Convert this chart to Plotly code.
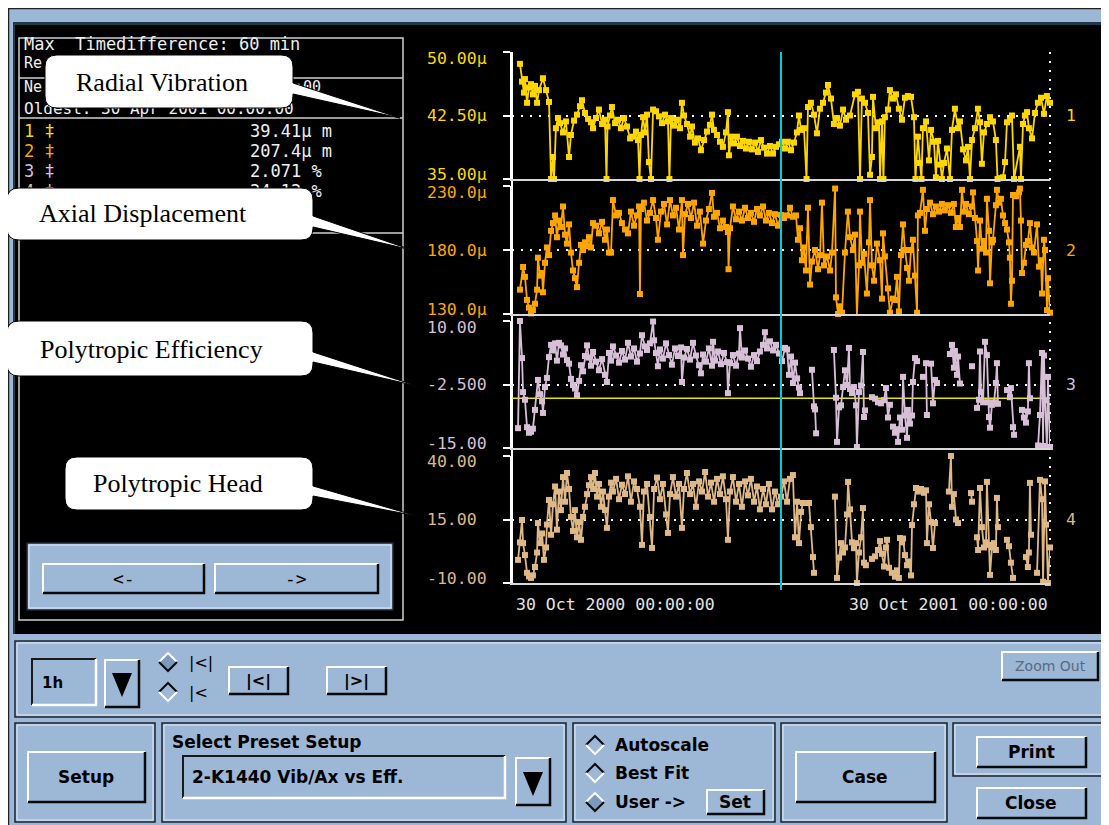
import plotly.graph_objects as go

# The page places the figure 8 px in from the top-left corner, so the figure is
# 1101x817 and every GUI pixel position below is given in page pixels.
OFF = 8
W, H = 1101, 817
BLUE = "#9db7d6"
MONO = "DejaVu Sans Mono"
SANS = "DejaVu Sans"
SERIF = "Liberation Serif"

# ------------------------------------------------------------------ data
start_label = "30 Oct 2000 00:00:00"
end_label = "30 Oct 2001 00:00:00"
span_days = [0, 365]
cursor_day = 182.5
eff_limit = -5.2

series_names = ["Radial Vibration", "Axial Displacement",
                "Polytropic Efficiency", "Polytropic Head"]
value_ranges = [[35, 50], [130, 230], [-15, 10], [-10, 40]]
tick_labels = [["35.00µ", "42.50µ", "50.00µ"],
               ["130.0µ", "180.0µ", "230.0µ"],
               ["-15.00", "-2.500", "10.00"],
               ["-10.00", "15.00", "40.00"]]
series_colors = ["#ffd700", "#ffa500", "#d8bfd8", "#deb887"]
cursor_values = ["39.41µ m", "207.4µ m", "2.071 %", "24.12 %"]
info_header = "Max  Timedifference: 60 min"

vib_days = [5.4, 6.8, 8.1, 8.8, 10.2, 11.5, 12.9, 14.2, 15.6, 17.0,
            18.3, 21.0, 23.1, 25.1, 26.5, 27.8, 28.5, 29.8, 31.2, 32.6,
            34.6, 36.6, 38.7, 40.0, 42.1, 44.1, 46.1, 47.5, 49.5, 51.6,
            53.6, 55.0, 57.0, 59.0, 61.1, 63.1, 64.1, 64.8, 66.5, 67.8,
            69.9, 71.9, 73.9, 76.0, 78.0, 80.1, 82.1, 84.1, 85.5, 86.5,
            87.5, 88.9, 90.2, 91.6, 92.9, 94.3, 95.7, 97.7, 99.7, 101.8,
            103.8, 105.8, 106.8, 107.9, 109.9, 111.9, 114.0, 115.3, 116.7, 118.7,
            120.8, 122.1, 124.1, 126.2, 128.2, 130.3, 132.3, 134.3, 135.7, 137.0,
            139.1, 141.1, 143.1, 145.2, 146.5, 147.2, 148.6, 150.6, 152.6, 154.7,
            156.7, 158.7, 160.8, 162.8, 164.9, 166.9, 168.9, 171.0, 173.0, 175.0,
            177.1, 179.1, 181.1, 183.2, 185.2, 187.2, 189.3, 191.3, 193.3, 194.7,
            196.1, 198.1, 199.8, 200.8, 202.8, 204.9, 206.9, 208.9, 211.0, 213.0,
            214.4, 216.4, 218.4, 220.5, 222.5, 224.6, 226.6, 229.3, 232.7, 234.7,
            236.1, 237.4, 239.5, 241.5, 242.9, 244.2, 244.9, 246.9, 249.0, 249.7,
            251.0, 252.0, 253.0, 255.1, 256.4, 258.5, 260.5, 262.5, 264.6, 266.6,
            268.6, 270.7, 272.7, 273.7, 275.4, 276.8, 277.8, 278.8, 280.9, 282.9,
            284.3, 286.3, 287.6, 289.0, 290.4, 291.7, 293.1, 295.1, 297.1, 298.5,
            300.5, 302.6, 303.9, 306.0, 308.0, 309.4, 310.7, 312.1, 314.1, 316.1,
            317.5, 318.8, 320.2, 322.2, 324.3, 326.3, 328.3, 329.4, 331.1, 333.1,
            334.5, 335.8, 337.8, 339.2, 340.6, 344.6, 345.3, 346.7, 348.0, 349.4,
            350.7, 352.8, 354.8, 356.8, 358.9, 360.9, 362.9, 365.0]
vib_um = [48.6, 46.5, 45.2, 46.8, 44.0, 45.8, 46.2, 45.0, 46.0, 44.0,
          45.5, 46.9, 45.5, 44.1, 35.0, 37.6, 35.0, 41.0, 42.2, 41.6,
          40.5, 41.8, 37.6, 40.2, 41.9, 42.6, 43.6, 44.3, 42.8, 42.1,
          41.7, 41.0, 42.2, 43.2, 41.5, 42.0, 35.0, 41.2, 42.5, 43.5,
          41.6, 42.0, 41.0, 42.2, 41.2, 39.8, 40.0, 40.6, 39.6, 35.0,
          40.2, 42.3, 40.5, 42.6, 37.0, 35.0, 43.2, 43.0, 42.4, 41.6,
          42.6, 41.8, 35.0, 42.2, 41.3, 42.0, 41.0, 44.0, 42.5, 41.5,
          40.0, 41.2, 39.3, 39.8, 38.4, 39.6, 40.6, 41.4, 42.6, 40.8,
          40.2, 39.4, 38.8, 40.5, 42.9, 37.8, 40.0, 39.2, 40.0, 38.9,
          39.5, 38.6, 39.4, 38.5, 39.3, 38.2, 39.6, 38.7, 38.0, 38.9,
          38.0, 38.8, 39.1, 39.4, 38.6, 39.4, 38.4, 39.3, 40.5, 42.5,
          40.8, 41.0, 35.0, 43.5, 44.0, 42.6, 40.4, 43.3, 44.0, 45.2,
          46.1, 44.5, 41.5, 42.2, 41.3, 43.2, 42.0, 42.5, 45.0, 45.3,
          35.0, 44.5, 44.0, 42.8, 35.5, 37.6, 44.7, 41.0, 41.7, 35.0,
          41.8, 35.0, 42.3, 43.2, 45.5, 44.5, 45.0, 43.3, 42.0, 44.6,
          44.8, 44.7, 42.3, 35.0, 40.0, 36.9, 35.0, 41.0, 41.8, 37.2,
          40.8, 39.4, 35.2, 39.5, 36.7, 35.0, 36.9, 38.6, 35.0, 40.8,
          43.3, 41.0, 41.8, 38.5, 37.2, 38.8, 35.0, 39.6, 41.0, 43.3,
          41.7, 36.8, 40.5, 41.5, 42.3, 41.8, 39.6, 35.0, 35.1, 35.2,
          37.0, 41.7, 42.0, 42.5, 35.0, 38.8, 35.0, 41.5, 42.5, 42.9,
          41.0, 39.8, 42.8, 44.0, 44.6, 42.7, 44.8, 44.0]

axial_days = [5.4, 7.5, 8.8, 10.2, 11.5, 12.9, 14.2, 15.6, 17.0, 17.6,
              19.0, 20.4, 21.0, 22.4, 23.7, 25.1, 26.5, 27.8, 29.2, 30.5,
              31.9, 33.2, 34.6, 36.0, 37.3, 38.7, 40.0, 41.4, 42.7, 44.1,
              45.5, 46.8, 48.2, 49.5, 50.9, 52.2, 53.6, 55.0, 57.0, 59.0,
              61.1, 63.1, 64.4, 65.8, 67.2, 68.5, 70.6, 72.6, 74.6, 76.7,
              78.7, 80.7, 82.8, 84.8, 86.2, 86.8, 87.5, 89.5, 91.6, 93.6,
              95.7, 97.7, 99.0, 101.1, 103.1, 105.2, 107.2, 109.2, 111.3, 113.3,
              115.3, 116.0, 117.4, 119.4, 121.4, 123.5, 125.5, 127.5, 129.6, 131.6,
              133.6, 135.7, 137.0, 139.1, 141.1, 143.1, 145.2, 146.5, 146.9, 147.9,
              149.9, 152.0, 154.0, 156.0, 158.1, 160.1, 162.1, 164.2, 166.2, 168.2,
              170.3, 172.3, 174.3, 176.4, 178.4, 180.5, 182.5, 184.5, 186.6, 188.6,
              190.6, 192.7, 194.0, 195.4, 196.7, 198.1, 199.4, 200.8, 202.2, 203.5,
              205.6, 207.6, 209.0, 210.3, 211.7, 213.7, 215.8, 217.1, 219.2, 219.8,
              221.2, 222.5, 223.9, 225.9, 227.9, 229.3, 231.3, 232.7, 234.0, 235.4,
              236.1, 237.4, 238.8, 240.8, 242.2, 242.9, 244.2, 245.6, 247.6, 249.7,
              251.0, 251.7, 253.0, 255.1, 256.4, 258.5, 259.8, 261.2, 262.5, 263.9,
              265.3, 266.6, 268.0, 269.3, 270.7, 272.0, 273.4, 274.8, 275.4, 276.8,
              278.8, 280.2, 281.5, 283.6, 285.6, 287.6, 289.7, 291.7, 293.7, 295.8,
              297.8, 299.8, 301.2, 302.6, 303.9, 305.3, 306.6, 308.0, 310.0, 312.1,
              312.8, 314.1, 315.5, 316.2, 317.5, 318.9, 320.2, 321.6, 322.2, 323.6,
              324.3, 325.6, 326.3, 328.3, 329.0, 330.4, 331.7, 333.1, 334.5, 335.8,
              337.2, 337.8, 338.5, 339.2, 339.9, 341.9, 344.0, 344.6, 345.3, 346.0,
              347.3, 348.7, 350.0, 351.4, 352.8, 354.1, 356.2, 357.5, 358.9, 359.6,
              360.9, 361.6, 363.0, 363.6, 365.0]
axial_um = [149, 166.7, 159, 141, 135, 130.5, 133, 138, 149, 174,
            160, 162, 147, 170, 182, 176, 195, 201, 207, 190,
            203, 198, 214, 192, 185, 200, 178, 164, 158, 151,
            170, 184, 180, 186, 183, 190, 182, 201, 199, 193,
            202, 188, 196, 178, 178, 219, 207, 209, 201, 196,
            193, 210, 199, 207, 214, 145.6, 212, 217, 203, 209,
            219, 205, 188, 210, 216, 200, 219, 207, 213, 196,
            219, 176, 208, 216, 205, 217, 199, 210, 185, 203,
            212, 224.6, 206, 209, 197, 203, 198, 194, 165, 197,
            214, 204, 210, 203, 213, 205, 209, 202, 212, 207,
            214, 203, 209, 201, 208, 199, 207.4, 205, 207, 213,
            206, 207, 188, 197, 172, 182, 164, 213, 153, 171,
            180, 165, 176, 217, 168, 175, 164, 178, 228, 143,
            130, 136, 131, 178, 210, 190, 180, 192, 129.5, 168,
            210, 170, 177, 146, 186, 219, 168, 156, 185, 172,
            142, 193, 175, 150, 131, 142, 141, 159, 132, 176,
            200, 180, 166, 156, 180, 188, 160, 131, 207, 209,
            227, 195, 212, 217, 208, 214, 210, 216, 211, 215,
            209, 216, 198, 205, 198, 227, 210, 216, 208, 214,
            225, 205, 187, 164, 203, 181, 187, 178, 220, 195,
            154, 186, 188, 215, 227, 217, 220, 207, 201, 196,
            186, 174, 138, 156, 223, 222, 225, 228, 203, 162,
            170, 184, 187, 201, 182, 178, 200, 167, 172, 146,
            188, 180, 133, 158, 131]

eff_days = [4.1, 5.4, 6.8, 7.5, 8.8, 10.2, 11.5, 12.9, 14.2, 15.6,
            17.6, 19.0, 20.4, 21.0, 22.4, 23.7, 25.1, 26.5, 27.8, 29.2,
            30.5, 31.9, 33.2, 34.6, 36.0, 37.3, 38.7, 40.0, 41.4, 42.7,
            44.1, 45.5, 46.8, 48.2, 49.5, 50.9, 52.2, 53.6, 55.0, 57.0,
            59.0, 61.1, 63.1, 64.4, 65.8, 67.2, 68.5, 70.6, 72.6, 74.6,
            76.7, 78.7, 80.7, 82.8, 84.8, 86.8, 88.2, 90.2, 91.6, 93.6,
            95.7, 96.4, 97.7, 99.0, 100.4, 102.4, 104.5, 106.5, 108.5, 110.6,
            112.6, 114.7, 115.3, 116.7, 118.7, 120.8, 122.8, 124.8, 126.9, 128.2,
            129.6, 131.6, 133.6, 135.7, 136.4, 137.7, 139.8, 141.8, 143.8, 145.9,
            146.5, 147.9, 149.9, 152.0, 154.0, 154.7, 156.0, 158.1, 160.1, 162.1,
            164.2, 166.2, 168.2, 170.3, 171.6, 173.0, 175.0, 177.1, 179.1, 181.1,
            183.2, 185.2, 186.6, 187.9, 189.3, 190.6, 192.0, 193.4, 194.7, 195.4,
            None, 203.5, 204.9, 205.6, 206.3, None, 218.4, 219.8, 220.5, 221.9,
            223.2, 224.6, 225.9, 227.3, 228.6, 229.3, 230.7, 232.0, 233.4, 234.0,
            235.4, 236.8, 238.1, 238.8, 239.5, None, 244.2, 246.3, 248.3, 250.3,
            252.4, 253.7, 255.1, 256.4, None, 258.5, 259.8, 261.2, 261.9, 263.2,
            264.6, 265.3, 266.6, 268.0, 268.6, 270.0, 271.4, 272.0, 273.4, 274.8,
            None, 278.8, None, 280.9, 281.5, None, 284.3, 285.6, 287.0, 288.3,
            None, 297.1, 298.5, 299.8, 300.5, 301.9, 302.6, 303.9, None, 312.1,
            None, 315.5, 316.8, 317.5, 318.2, 319.6, 320.9, 322.2, 322.9, 323.6,
            324.3, 325.6, 327.0, 328.3, 329.0, 329.7, None, 335.8, 337.8, 338.5,
            339.9, 340.6, None, 346.0, 347.3, 348.7, 350.0, 350.7, 351.4, None,
            356.9, 358.2, 359.6, 360.3, 360.9, 361.6, 362.9, 363.6, 365.0]
eff_pct = [-11.1, 10.0, 2.7, -4.0, -5.5, -10.9, -12.0, -11.8, -11.2, -7.5,
           -1.6, -4.4, -5.8, -8.1, -3.0, -1.2, 2.9, 5.3, 4.2, 5.6,
           2.2, 5.7, 5.2, 3.4, 4.6, 2.3, 1.6, -1.4, -2.6, -3.3,
           -4.6, -1.8, 1.3, 0.1, 3.1, 5.2, 2.8, 1.2, 3.9, 2.0,
           0.3, 2.5, -0.6, -2.0, 3.7, 2.2, 5.0, 3.2, 1.8, 4.1,
           2.4, 5.7, 3.0, 4.6, 2.0, 3.6, 7.2, 5.0, 4.3, 5.6,
           9.9, 6.2, 3.7, 1.1, 4.4, 2.6, 5.6, 3.3, 1.4, 4.6,
           3.1, 4.8, -2.0, 2.8, 4.5, 2.4, 5.7, 3.2, 1.3, -0.3,
           3.4, 2.0, 4.6, 1.2, 5.9, 2.2, 4.0, 1.5, 3.7, 1.9,
           -4.2, 1.7, 3.3, 1.2, 3.6, 8.6, 2.8, 4.2, 2.6, 1.0,
           3.3, 2.1, 4.0, 5.3, 7.8, 4.6, 6.0, 4.2, 5.3, 3.6,
           2.1, 4.7, 4.4, -0.6, 3.0, -2.2, 1.8, -1.3, -3.1, -4.2,
           None, 0.4, -6.8, -7.4, -12.1, None, 4.3, -5.1, -13.8, -7.0,
           -6.6, -3.0, 0.3, -2.6, 4.7, -3.4, -4.2, -3.0, -6.6, -14.8,
           -4.0, -2.7, 3.9, -8.9, -7.6, None, -5.0, -5.3, -6.0, -6.2,
           -5.6, -3.2, -9.0, -6.5, None, -10.8, -12.0, -11.3, -13.8, -9.0,
           -11.4, -1.0, -8.6, -13.0, -7.5, -10.2, -8.6, -2.0, 2.7, 2.1,
           None, -1.0, None, 1.7, -8.5, None, 1.6, -6.2, -1.6, -2.2,
           None, 3.5, 5.3, 0.8, 4.1, -0.6, 3.0, -2.3, None, 1.1,
           None, -7.1, -5.5, 4.0, -4.0, -6.0, 5.9, 3.3, -6.0, -8.9,
           -11.0, -6.5, -6.0, -2.2, 1.7, -6.3, None, -3.6, -5.0, -3.2,
           -10.9, -12.4, None, -7.5, -9.0, -10.0, -7.8, 1.7, -5.2, None,
           -14.5, -8.5, 3.7, -14.6, 3.2, -5.6, -14.8, -1.0, -14.8]

head_days = [4.1, 5.4, 6.8, 7.5, 8.8, 10.2, 11.5, 12.9, 14.2, 15.6,
             17.0, 17.6, 19.0, 20.4, 21.7, 23.1, 23.7, 25.1, 26.5, 27.8,
             29.2, 30.5, 31.9, 33.2, 34.6, 36.0, 37.3, 38.7, 40.0, 41.4,
             42.7, 44.1, 45.5, 46.8, 48.2, 49.5, 50.9, 52.2, 53.6, 55.0,
             56.3, 57.7, 59.0, 60.4, 61.7, 63.1, 64.4, 65.8, 67.2, 68.5,
             70.6, 72.6, 74.6, 76.7, 78.7, 80.7, 82.8, 84.8, 86.8, 88.2,
             89.5, 91.6, 93.6, 95.0, 96.4, 98.4, 100.4, 102.4, 104.5, 105.8,
             107.2, 109.2, 111.3, 113.3, 115.3, 116.7, 118.7, 120.8, 122.8, 124.8,
             126.9, 128.9, 131.0, 133.0, 135.0, 137.1, 139.1, 141.1, 143.1, 145.2,
             146.5, 147.9, 149.9, 152.0, 154.0, 156.0, 158.1, 160.1, 162.1, 164.2,
             166.2, 168.2, 170.3, 172.3, 174.3, 176.4, 178.4, 180.5, 182.5, 184.5,
             186.6, 188.6, 190.6, 192.0, 193.4, 194.7, 196.1, 197.4, None, 201.5,
             202.8, 204.2, 204.9, None, 219.1, 220.5, 221.9, 223.2, 224.6, 225.9,
             227.3, 228.0, 229.3, 230.7, 232.0, 233.4, 234.0, 235.4, 236.8, 238.1,
             238.8, 240.1, None, 244.2, 246.3, 248.3, 249.7, 251.0, 252.4, 253.7,
             254.4, 255.8, 257.7, 259.8, 261.2, 262.5, 263.2, 264.6, 265.3, 266.6,
             268.0, 269.3, 270.7, 271.4, 272.7, 274.1, 275.4, 277.5, 279.5, 280.9,
             281.5, 282.9, 284.3, 285.6, 287.0, None, 296.4, 297.8, 298.5, 299.8,
             301.2, 302.6, None, 311.4, 312.1, None, 315.5, 316.2, 317.5, 318.8,
             320.2, 321.6, 322.2, 323.6, 324.3, 325.6, 327.0, 328.3, 329.0, 329.7,
             None, 335.8, 337.2, 338.5, 339.9, None, 348.7, 350.0, 350.7, 351.4,
             352.1, None, 356.2, 358.2, 359.6, 360.3, 361.6, 362.3, 363.6, 365.0]
head_val = [-0.9, 6.0, 14.8, 5.7, 1.0, -6.0, -7.4, -8.0, -7.0, -3.7,
            2.0, 13.6, 5.7, 9.5, -0.9, 4.0, 13.0, 22.7, 9.0, 21.0,
            28.0, 11.0, 26.0, 18.7, 31.7, 22.0, 33.3, 27.0, 16.0, 10.5,
            18.7, 8.0, 14.0, 7.0, 16.0, 20.0, 25.0, 28.5, 31.7, 27.0,
            33.3, 24.0, 29.0, 20.0, 26.0, 18.7, 11.7, 24.0, 29.5, 26.0,
            31.0, 23.0, 28.7, 25.0, 32.0, 22.0, 30.0, 27.0, 20.0, 5.0,
            26.0, 29.0, 16.0, 3.8, 27.0, 31.5, 23.0, 29.0, 17.0, 9.7,
            25.0, 31.7, 24.0, 29.0, 11.7, 27.0, 33.3, 25.0, 29.0, 20.0,
            30.0, 26.0, 33.7, 24.0, 29.5, 22.0, 31.0, 25.0, 32.0, 23.0,
            7.0, 26.0, 31.7, 22.0, 29.0, 20.0, 30.0, 24.5, 31.0, 22.0,
            28.0, 19.0, 27.0, 21.0, 29.0, 19.0, 26.0, 21.0, 24.0, 30.0,
            22.0, 31.0, 32.5, 8.0, 22.0, 5.7, 18.0, 21.5, None, 21.5,
            12.0, 0.2, -6.0, None, 24.0, -8.0, 0.0, 5.7, 2.0, 4.0,
            17.0, 29.8, 19.0, 6.0, 3.7, 5.7, -10.0, 2.0, 8.0, 19.5,
            -2.0, -3.0, None, -0.5, 0.5, 3.0, 6.5, 1.5, -3.5, 4.0,
            7.0, -4.0, -6.0, -7.5, -5.0, -8.0, 7.7, 6.0, 7.5, 1.0,
            -3.0, -1.5, -7.0, 12.8, 21.0, 27.4, 26.0, 27.0, 25.5, 26.5,
            5.7, 21.0, 14.0, 3.8, 13.6, None, 26.0, 40.0, 20.0, 25.0,
            15.0, 13.6, None, 25.4, 22.0, None, 8.0, 3.0, 27.4, 12.0,
            4.0, 6.0, 29.8, 5.0, -6.8, 4.0, 5.7, 3.0, 23.5, 12.0,
            None, 7.0, 4.5, -2.0, -8.0, None, 0.2, -3.7, 2.0, 29.4,
            9.0, None, -6.0, 30.6, 23.0, -9.5, 30.0, 13.0, -10.0, 4.0]

series_days = [vib_days, axial_days, eff_days, head_days]
series_vals = [vib_um, axial_um, eff_pct, head_val]

# ------------------------------------------------------------------ helpers (GUI drawing, page pixel -> paper)
shapes, annots = [], []


def fx(px):
    return (px - OFF) / W


def fy(py):
    return 1 - (py - OFF) / H


def P(x, y):
    return f"{fx(x):.5f},{fy(y):.5f}"


def rect(x0, y0, x1, y1, fill="rgba(0,0,0,0)", line=None, lw=1, layer="below"):
    shapes.append(dict(type="rect", xref="paper", yref="paper",
                       x0=fx(x0), x1=fx(x1), y0=fy(y1), y1=fy(y0),
                       fillcolor=fill, layer=layer,
                       line=dict(color=line or "rgba(0,0,0,0)", width=lw if line else 0)))


def poly(pts, fill="rgba(0,0,0,0)", line=None, lw=1, closed=True, layer="below", dash=None):
    d = "M " + " L ".join(P(x, y) for x, y in pts) + (" Z" if closed else "")
    ln = dict(color=line or "rgba(0,0,0,0)", width=lw if line else 0)
    if dash:
        ln["dash"] = dash
    shapes.append(dict(type="path", xref="paper", yref="paper", path=d,
                       fillcolor=fill, layer=layer, line=ln))


def bevel(x0, y0, x1, y1, raised=True, fill=BLUE, w=2):
    rect(x0, y0, x1, y1, fill)
    light, dark = ("#ffffff", "#0a0a0a") if raised else ("#1a1a1a", "#ffffff")
    poly([(x0, y1), (x0, y0), (x1, y0)], line=light, lw=w, closed=False)
    poly([(x0, y1), (x1, y1), (x1, y0)], line=dark, lw=w + 0.5, closed=False)


def panel(x0, y0, x1, y1):
    rect(x0, y0, x1, y1, line="#1b2530", lw=1.5)
    rect(x0 + 2, y0 + 2, x1 - 2, y1 - 2, line="#e6edf6", lw=1)


def diamond(cx, cy, selected):
    s = 9
    poly([(cx - s, cy), (cx, cy - s), (cx + s, cy), (cx, cy + s)],
         fill="#7c98bd" if selected else BLUE)
    poly([(cx - s, cy), (cx, cy - s), (cx + s, cy)],
         line="#ffffff" if selected else "#0a0a0a", lw=2, closed=False)
    poly([(cx - s, cy), (cx, cy + s), (cx + s, cy)],
         line="#0a0a0a" if selected else "#ffffff", lw=2, closed=False)


def label(x, y, s, size=17, color="#000000", family=SANS, anchor="left", bold=False):
    annots.append(dict(x=fx(x), y=fy(y), xref="paper", yref="paper",
                       text=f"<b>{s}</b>" if bold else s, showarrow=False,
                       xanchor=anchor, yanchor="middle",
                       font=dict(family=family, size=size, color=color)))


def callout(x0, y0, x1, y1, ty0, ty1, tip, text, tx, ty, r=12):
    tpx, tpy = tip
    d = (f"M {P(x0 + r, y0)} L {P(x1 - r, y0)} Q {P(x1, y0)} {P(x1, y0 + r)} "
         f"L {P(x1, ty0)} L {P(tpx, tpy)} L {P(x1, ty1)} L {P(x1, y1 - r)} "
         f"Q {P(x1, y1)} {P(x1 - r, y1)} L {P(x0 + r, y1)} Q {P(x0, y1)} {P(x0, y1 - r)} "
         f"L {P(x0, y0 + r)} Q {P(x0, y0)} {P(x0 + r, y0)} Z")
    shapes.append(dict(type="path", xref="paper", yref="paper", path=d,
                       fillcolor="#ffffff", layer="above",
                       line=dict(color="#000000", width=1)))
    label(tx, ty, text, size=26, family=SERIF, anchor="center")


# ------------------------------------------------------------------ window chrome
rect(8.5, 8.5, 1130, 840, fill=BLUE, line="#202020", lw=1.5)
rect(13, 22, 1108, 634, fill="#000000")
rect(13, 22, 1108, 25, fill="#1e3a44")
rect(13, 22, 15, 634, fill="#1e3a44")

# left info panel
rect(19, 38, 403, 620, line="#d0d0d0", lw=1.5)
for yy in (78, 118, 233):
    poly([(19, yy), (403, yy)], line="#d0d0d0", lw=1.5, closed=False)
rect(27, 543, 393, 610, fill=BLUE)
panel(27, 543, 393, 610)
bevel(43, 564, 204, 593)
bevel(215, 564, 378, 593)
label(124, 578, "&lt;-", size=18, family=MONO, anchor="center")
label(296, 578, "-&gt;", size=18, family=MONO, anchor="center")

# bottom control rows
panel(15, 641, 1104, 717)
bevel(32, 659, 96, 705, raised=False)
label(40, 683, "1h", size=15, bold=True)
bevel(105, 660, 139, 707)
poly([(112, 673), (132, 673), (122, 697)], fill="#000000")
diamond(168, 662, True)
diamond(168, 692, False)
label(187, 662, "|&lt;|", size=16)
label(187, 692, "|&lt;", size=16)
bevel(229, 667, 288, 694)
label(258, 681, "|&lt;|", size=16, anchor="center", bold=True)
bevel(327, 667, 386, 694)
label(356, 681, "|&gt;|", size=16, anchor="center", bold=True)
bevel(1002, 652, 1098, 680)
label(1050, 666, "Zoom Out", size=14, color="#5a6a80", anchor="center")

panel(15, 723, 155, 822)
bevel(28, 752, 145, 802)
label(86, 777, "Setup", anchor="center", bold=True)

panel(162, 723, 566, 822)
label(170, 742, "Select Preset Setup", bold=True)
bevel(183, 756, 505, 798, raised=False)
label(190, 777, "2-K1440 Vib/Ax vs Eff.", bold=True)
bevel(516, 758, 550, 805)
poly([(523, 772), (543, 772), (533, 796)], fill="#000000")

panel(573, 723, 775, 822)
diamond(595, 745, False)
diamond(595, 773, False)
diamond(595, 802, True)
label(613, 745, "Autoscale", bold=True)
label(613, 773, "Best Fit", bold=True)
label(613, 802, "User -&gt;", bold=True)
bevel(707, 790, 764, 814)
label(735, 802, "Set", anchor="center", bold=True)

panel(781, 723, 947, 822)
bevel(796, 752, 935, 802)
label(865, 777, "Case", anchor="center", bold=True)

panel(953, 723, 1106, 776)
bevel(977, 737, 1086, 767)
label(1031, 752, "Print", anchor="center", bold=True)
bevel(977, 788, 1086, 818)
label(1031, 803, "Close", anchor="center", bold=True)

# ------------------------------------------------------------------ chart frame
PX0, PX1 = 512, 1050
bands = [(52, 179), (186, 314), (321, 448), (456, 583)]
poly([(PX0, 52), (PX0, 583)], line="#ffffff", lw=2, closed=False)
poly([(PX1, 52), (PX1, 583)], line="#ffffff", lw=2, closed=False, dash="2px,7px")

fig = go.Figure()
layout_axes = {}
for k in range(4):
    n = "" if k == 0 else str(k + 1)
    top, bot = bands[k]
    lo, hi = value_ranges[k]
    mid = (lo + hi) / 2
    layout_axes[f"xaxis{n}"] = dict(domain=[fx(PX0), fx(PX1)], range=span_days,
                                    anchor=f"y{n}", showline=True, linecolor="#d8d8d8",
                                    linewidth=2, showgrid=False, zeroline=False,
                                    showticklabels=False, ticks="", fixedrange=True)
    layout_axes[f"yaxis{n}"] = dict(domain=[fy(bot), fy(top)], range=[lo, hi],
                                    anchor=f"x{n}", tickvals=[lo, mid, hi],
                                    showticklabels=False, ticks="outside", ticklen=7,
                                    tickwidth=2, tickcolor="#ffffff",
                                    showgrid=True, gridcolor="#ffffff", gridwidth=2,
                                    griddash="2px,7px", zeroline=False,
                                    showline=True, linecolor="#ffffff", linewidth=2,
                                    fixedrange=True)
    fig.add_trace(go.Scatter(x=series_days[k], y=series_vals[k], name=series_names[k],
                             xaxis=f"x{n}", yaxis=f"y{n}", mode="lines+markers",
                             line=dict(color=series_colors[k], width=1.8),
                             marker=dict(symbol="square", size=6, color=series_colors[k]),
                             connectgaps=False, cliponaxis=False, hoverinfo="skip"))
    # tick labels, nudged inside their band like the original
    for i, (val, txt) in enumerate(zip([lo, mid, hi], tick_labels[k])):
        shift = 5 if i == 0 else (-6 if i == 2 else 0)
        annots.append(dict(x=fx(425), xref="paper", y=val, yref=f"y{n}", text=txt,
                           showarrow=False, xanchor="left", yanchor="middle", yshift=shift,
                           font=dict(family=MONO, size=16.5, color=series_colors[k])))
    annots.append(dict(x=fx(1064), xref="paper", y=mid, yref=f"y{n}", text=str(k + 1),
                       showarrow=False, xanchor="left", yanchor="middle",
                       font=dict(family=MONO, size=16.5, color=series_colors[k])))

# efficiency limit and time cursor
shapes.append(dict(type="line", xref="x3", yref="y3", x0=span_days[0], x1=span_days[1],
                   y0=eff_limit, y1=eff_limit, layer="below",
                   line=dict(color="#e6e600", width=1.5)))
shapes.append(dict(type="line", xref="x", yref="paper", x0=cursor_day, x1=cursor_day,
                   y0=fy(590), y1=fy(52), layer="above",
                   line=dict(color="#00cdd6", width=2)))

# time axis labels
annots.append(dict(x=span_days[0], xref="x4", y=fy(604), yref="paper", text=start_label,
                   showarrow=False, xanchor="left", yanchor="middle", xshift=2,
                   font=dict(family=MONO, size=16.5, color="#e4e4e4")))
annots.append(dict(x=span_days[1], xref="x4", y=fy(604), yref="paper", text=end_label,
                   showarrow=False, xanchor="right", yanchor="middle",
                   font=dict(family=MONO, size=16.5, color="#e4e4e4")))

# ------------------------------------------------------------------ info panel text
# drawn as a text trace (page-pixel overlay axis) so the callout bubbles can cover it;
# only the parts that peek out from under the bubbles are written.
txt = [(info_header, 24, 46, "#f0f0f0", 17),
       ("Re", 24, 64, "#f0f0f0", 15),
       ("Ne", 24, 88, "#f0f0f0", 15),
       (":00", 294, 88, "#f0f0f0", 15),
       ("Oldest: 30 Apr 2001 00:00:00", 24, 110, "#f0f0f0", 16)]
for k in range(4):
    yy = 133 + 20 * k
    txt.append((f"{k + 1} ‡", 24, yy, series_colors[k], 17))
    txt.append((cursor_values[k], 250, yy, "#f0f0f0", 17))
fig.add_trace(go.Scatter(x=[t[1] for t in txt], y=[t[2] for t in txt],
                         text=[t[0] for t in txt], mode="text",
                         textposition="middle right", xaxis="x5", yaxis="y5",
                         textfont=dict(family=MONO, size=[t[4] for t in txt],
                                       color=[t[3] for t in txt]),
                         hoverinfo="skip"))
layout_axes["xaxis5"] = dict(domain=[0, 1], range=[OFF, OFF + W], visible=False,
                             fixedrange=True, anchor="y5")
layout_axes["yaxis5"] = dict(domain=[0, 1], range=[OFF + H, OFF], visible=False,
                             fixedrange=True, anchor="x5")

# ------------------------------------------------------------------ callouts
callout(45, 55, 293, 108, 83, 94, (400, 118), series_names[0], 162, 82)
callout(7, 188, 313, 240, 216, 227, (412, 250), series_names[1], 143, 213)
callout(7, 321, 313, 376, 352, 362, (417, 386), series_names[2], 151, 349)
callout(65, 457, 313, 510, 486, 496, (417, 516), series_names[3], 178, 483)

fig.update_layout(width=W, height=H, autosize=False, margin=dict(l=0, r=0, t=0, b=0),
                  paper_bgcolor="#ffffff", plot_bgcolor="rgba(0,0,0,0)",
                  showlegend=False, shapes=shapes, annotations=annots, **layout_axes)

fig.write_html("out.html")
